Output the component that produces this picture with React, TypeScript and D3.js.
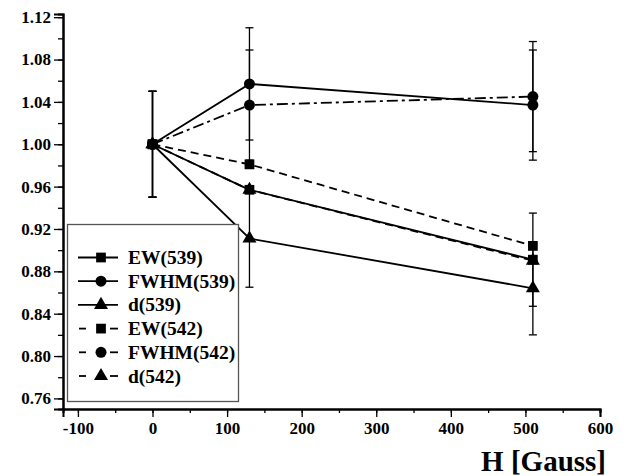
import { useRef, useEffect } from 'react'
import { select, scaleLinear, axisLeft, axisBottom, line, range, symbol, symbolSquare, symbolCircle, symbolTriangle } from 'd3'

// field H in Gauss
const fieldValues = [0, 130, 510]

// normalised values
const ew539 = [1.0, 0.957, 0.891]
const fwhm539 = [1.0, 1.057, 1.037]
const d539 = [1.0, 0.911, 0.864]
const ew542 = [1.0, 0.981, 0.904]
const fwhm542 = [1.0, 1.037, 1.045]
const d542 = [1.0, 0.957, 0.89]

// error half-widths (null = no bar)
const ew539Err = [0.05, null, 0.044]
const fwhm539Err = [0.05, 0.053, 0.052]
const d539Err = [0.05, 0.046, 0.044]
const ew542Err = [null, null, null]
const fwhm542Err = [0.05, 0.052, 0.052]
const d542Err = [null, null, null]

const xTicks = [-100, 0, 100, 200, 300, 400, 500, 600]
const yTicks = [0.76, 0.8, 0.84, 0.88, 0.92, 0.96, 1.0, 1.04, 1.08, 1.12]

const xLabel = 'H [Gauss]'

const series = [
  { name: 'EW(539)', values: ew539, errs: ew539Err, shape: 'square', dash: null },
  { name: 'FWHM(539)', values: fwhm539, errs: fwhm539Err, shape: 'circle', dash: null },
  { name: 'd(539)', values: d539, errs: d539Err, shape: 'triangle', dash: null },
  { name: 'EW(542)', values: ew542, errs: ew542Err, shape: 'square', dash: '8,5' },
  { name: 'FWHM(542)', values: fwhm542, errs: fwhm542Err, shape: 'circle', dash: '11,4,3,4' },
  { name: 'd(542)', values: d542, errs: d542Err, shape: 'triangle', dash: '8,5' },
]

const FONT = "'Liberation Serif', 'DejaVu Serif', serif"

const shapes: Record<string, any> = {
  square: symbol(symbolSquare, 95),
  circle: symbol(symbolCircle, 95),
  triangle: symbol(symbolTriangle, 85),
}

const App = () => {
  const svgRef = useRef<SVGSVGElement>(null)

  useEffect(() => {
    const svg = select(svgRef.current)
    svg.selectAll('*').remove()

    const margin = { left: 63, top: 14, right: 30, bottom: 67 }
    const width = 630
    const height = 476
    const innerWidth = width - margin.left - margin.right
    const innerHeight = height - margin.top - margin.bottom

    const x = scaleLinear().domain([-120, 600]).range([0, innerWidth])
    const y = scaleLinear().domain([0.75, 1.123]).range([innerHeight, 0])

    const g = svg.append('g').attr('transform', `translate(${margin.left},${margin.top})`)

    // axes with minor ticks
    const xAxisG = g.append('g').attr('transform', `translate(0,${innerHeight})`)
    xAxisG.call(axisBottom(x).tickValues(range(-100, 601, 50)).tickSize(4).tickFormat(() => '' as any))
    xAxisG
      .append('g')
      .call(axisBottom(x).tickValues(xTicks).tickSize(8).tickPadding(5).tickFormat((d: any) => String(d)))
    xAxisG.selectAll('.domain').attr('stroke-width', 2)

    const yAxisG = g.append('g')
    yAxisG.call(axisLeft(y).tickValues(range(0.76, 1.1201, 0.02)).tickSize(5).tickFormat(() => '' as any))
    yAxisG
      .append('g')
      .call(axisLeft(y).tickValues(yTicks).tickSize(9).tickPadding(3).tickFormat((d: any) => d.toFixed(2)))
    yAxisG.selectAll('.domain').attr('stroke-width', 2)

    g.selectAll('g').attr('font-family', FONT)
    g.selectAll('.tick line').attr('stroke', '#000').attr('stroke-width', 1.3)
    g.selectAll('.tick text')
      .style('font-family', FONT)
      .style('font-weight', 'bold')
      .style('font-size', '17px')
      .attr('fill', '#000')

    svg
      .append('text')
      .text(xLabel)
      .attr('x', 606)
      .attr('y', 471)
      .attr('text-anchor', 'end')
      .style('font-family', FONT)
      .style('font-weight', 'bold')
      .style('font-size', '29px')

    // error bars
    const cap = 4
    series.forEach((s) => {
      s.errs.forEach((e, i) => {
        if (e == null) return
        const cx = x(fieldValues[i])
        const y0 = y(s.values[i] - e)
        const y1 = y(s.values[i] + e)
        const eg = g.append('g').attr('stroke', '#000').attr('stroke-width', 1.3)
        eg.append('line').attr('x1', cx).attr('x2', cx).attr('y1', y0).attr('y2', y1)
        eg.append('line').attr('x1', cx - cap).attr('x2', cx + cap).attr('y1', y0).attr('y2', y0)
        eg.append('line').attr('x1', cx - cap).attr('x2', cx + cap).attr('y1', y1).attr('y2', y1)
      })
    })

    // lines
    const lineGen = line<number>()
      .x((_, i) => x(fieldValues[i]))
      .y((d) => y(d))

    series.forEach((s) => {
      g.append('path')
        .attr('d', lineGen(s.values))
        .attr('fill', 'none')
        .attr('stroke', '#000')
        .attr('stroke-width', 1.8)
        .attr('stroke-dasharray', s.dash)
    })

    // markers
    series.forEach((s) => {
      s.values.forEach((v, i) => {
        g.append('path')
          .attr('d', shapes[s.shape]())
          .attr('transform', `translate(${x(fieldValues[i])},${y(v)})`)
          .attr('fill', '#000')
      })
    })

    // legend
    const legend = svg.append('g')
    legend
      .append('rect')
      .attr('x', 67.5)
      .attr('y', 224.5)
      .attr('width', 171)
      .attr('height', 177)
      .attr('fill', '#fff')
      .attr('stroke', '#555')
      .attr('stroke-width', 1.3)

    series.forEach((s, i) => {
      const ly = 257.5 + i * 23.7
      const row = legend.append('g').attr('transform', `translate(0,${ly})`)
      if (s.dash) {
        row.append('line').attr('x1', 79).attr('x2', 86).attr('y1', 0).attr('y2', 0).attr('stroke', '#000').attr('stroke-width', 1.8)
        row.append('line').attr('x1', 110).attr('x2', 118).attr('y1', 0).attr('y2', 0).attr('stroke', '#000').attr('stroke-width', 1.8)
      } else {
        row.append('line').attr('x1', 78).attr('x2', 118).attr('y1', 0).attr('y2', 0).attr('stroke', '#000').attr('stroke-width', 1.8)
      }
      row.append('path').attr('d', shapes[s.shape]()).attr('transform', 'translate(101,0)').attr('fill', '#000')
      row
        .append('text')
        .text(s.name)
        .attr('x', 128)
        .attr('y', 6.5)
        .style('font-family', FONT)
        .style('font-weight', 'bold')
        .style('font-size', '19.5px')
    })
  }, [])

  return (
    <div>
      <svg
        ref={svgRef}
        width={630}
        height={476}
        style={{ position: 'absolute', left: 0, top: 0, background: '#fff' }}
      ></svg>
    </div>
  )
}

export default App
